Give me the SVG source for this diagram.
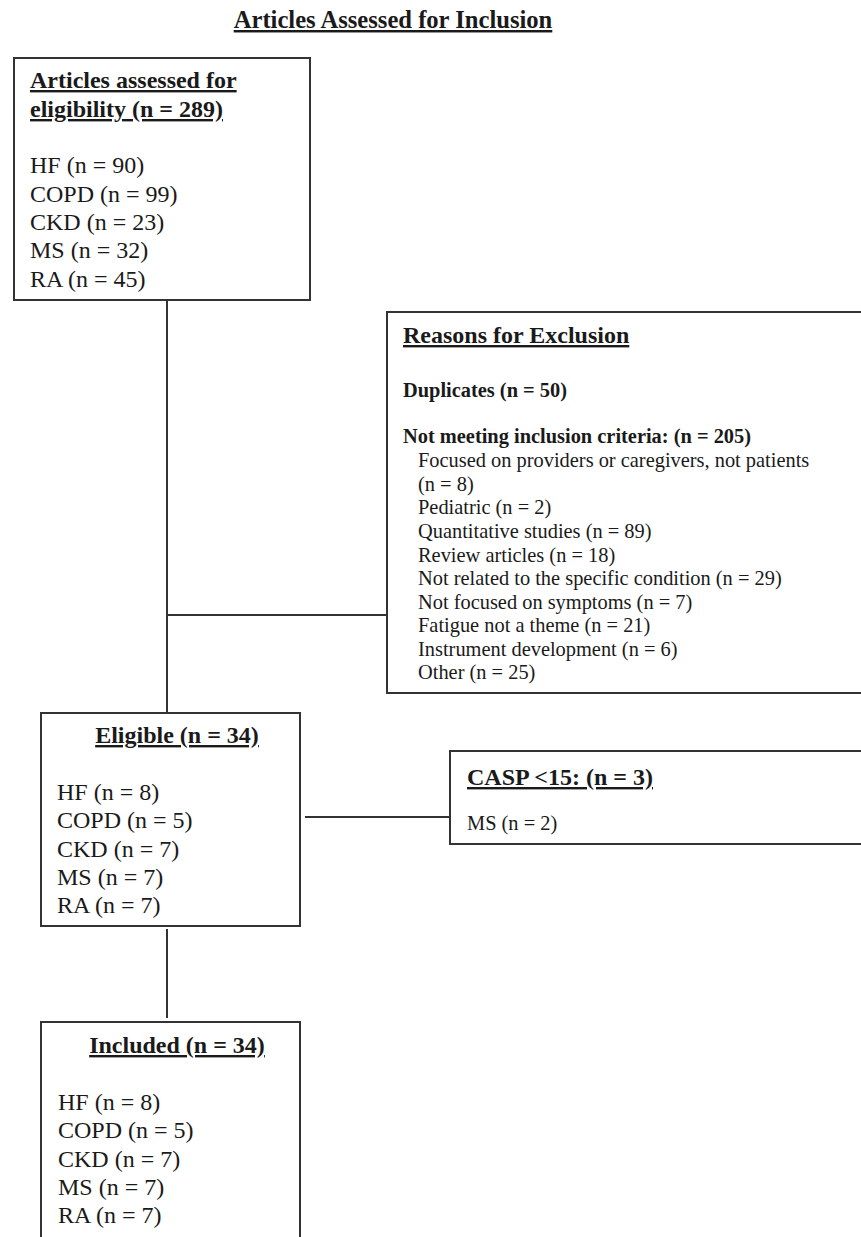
<svg xmlns="http://www.w3.org/2000/svg" width="861" height="1237" viewBox="0 0 861 1237">
<style>
.box{fill:#fff;stroke:#333;stroke-width:2}
.ln{stroke:#333;stroke-width:2;fill:none}
text{font-family:"Liberation Serif","Times New Roman",serif;fill:#1a1a1a}
.h{font-size:24px;font-weight:bold;text-decoration:underline;text-decoration-skip-ink:none}
.b{font-size:24px}
.sb{font-size:20.4px;font-weight:bold}
.s{font-size:20.4px}
</style>
<rect width="861" height="1237" fill="#fff"/>
<text id="title" x="393" y="28" class="h" text-anchor="middle" style="font-size:24.6px">Articles Assessed for Inclusion</text>
<g id="connectors">
<line class="ln" x1="167" y1="300" x2="167" y2="713"/>
<line class="ln" x1="167" y1="615" x2="387" y2="615"/>
<line class="ln" x1="305" y1="817" x2="450" y2="817"/>
<line class="ln" x1="167" y1="929" x2="167" y2="1018"/>
</g>
<g id="assessed">
<rect class="box" x="14" y="58" width="296" height="242"/>
<text x="30" y="88" class="h">Articles assessed for</text>
<text x="30" y="117" class="h">eligibility (n = 289)</text>
<text x="30" y="173" class="b">HF (n = 90)</text>
<text x="30" y="202" class="b">COPD (n = 99)</text>
<text x="30" y="230" class="b">CKD (n = 23)</text>
<text x="30" y="258" class="b">MS (n = 32)</text>
<text x="30" y="287" class="b">RA (n = 45)</text>
</g>
<g id="exclusion">
<path class="box" d="M870 312 H387 V693 H870"/>
<text x="403" y="343" class="h">Reasons for Exclusion</text>
<text x="403" y="397" class="sb">Duplicates (n = 50)</text>
<text x="403" y="443" class="sb">Not meeting inclusion criteria: (n = 205)</text>
<text x="418" y="467" class="s">Focused on providers or caregivers, not patients</text>
<text x="418" y="491" class="s">(n = 8)</text>
<text x="418" y="514" class="s">Pediatric (n = 2)</text>
<text x="418" y="538" class="s">Quantitative studies (n = 89)</text>
<text x="418" y="562" class="s">Review articles (n = 18)</text>
<text x="418" y="585" class="s">Not related to the specific condition (n = 29)</text>
<text x="418" y="609" class="s">Not focused on symptoms (n = 7)</text>
<text x="418" y="632" class="s">Fatigue not a theme (n = 21)</text>
<text x="418" y="656" class="s">Instrument development (n = 6)</text>
<text x="418" y="679" class="s">Other (n = 25)</text>
</g>
<g id="eligible">
<rect class="box" x="41" y="713" width="259" height="213"/>
<text x="177" y="743" class="h" text-anchor="middle">Eligible (n = 34)</text>
<text x="57" y="800" class="b">HF (n = 8)</text>
<text x="57" y="828" class="b">COPD (n = 5)</text>
<text x="57" y="857" class="b">CKD (n = 7)</text>
<text x="57" y="885" class="b">MS (n = 7)</text>
<text x="57" y="913" class="b">RA (n = 7)</text>
</g>
<g id="casp">
<path class="box" d="M870 751 H450 V844 H870"/>
<text x="467" y="785" class="h">CASP &lt;15: (n = 3)</text>
<text x="467" y="830" class="s">MS (n = 2)</text>
</g>
<g id="included">
<path class="box" d="M41 1245 V1022 H300 V1245"/>
<text x="177" y="1053" class="h" text-anchor="middle">Included (n = 34)</text>
<text x="58" y="1110" class="b">HF (n = 8)</text>
<text x="58" y="1138" class="b">COPD (n = 5)</text>
<text x="58" y="1167" class="b">CKD (n = 7)</text>
<text x="58" y="1195" class="b">MS (n = 7)</text>
<text x="58" y="1223" class="b">RA (n = 7)</text>
</g>
</svg>
